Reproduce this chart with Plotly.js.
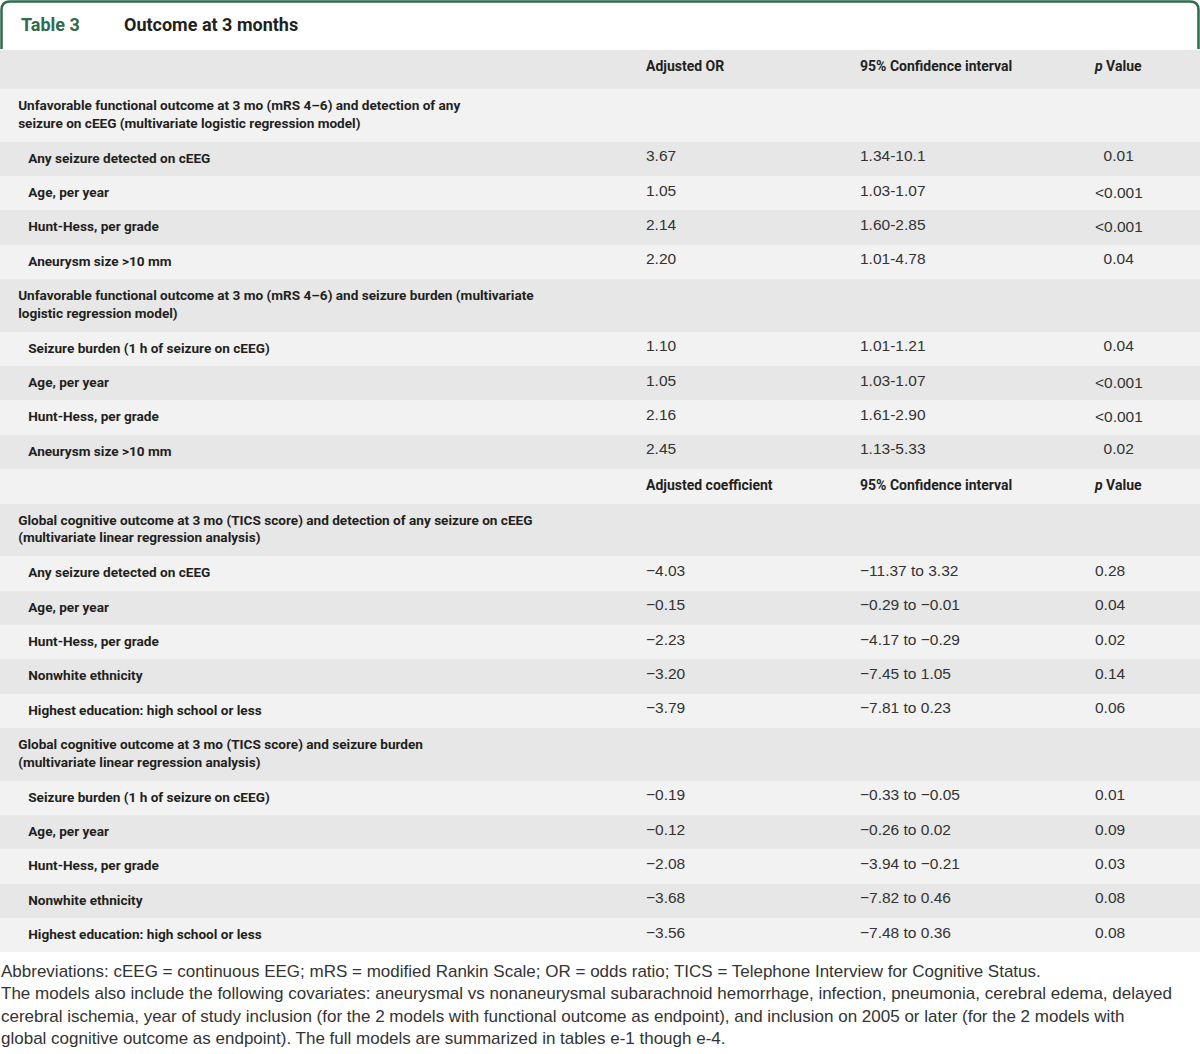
<!DOCTYPE html>
<html>
<head>
<meta charset="utf-8">
<script src="https://cdn.plot.ly/plotly-3.0.1.min.js"></script>
<style>html,body{margin:0;padding:0;background:#fff;}#chart{width:1200px;height:1054px;}</style>
</head>
<body>
<div id="chart"></div>
<script>
// ---------------- data ----------------
const tableNumber = "Table 3";
const tableTitle = "Outcome at 3 months";
const columnHeaders = ["", "Adjusted OR", "95% Confidence interval", "<i>p</i> Value"];

const rowKinds = [
  "section", "item", "item", "item", "item",
  "section", "item", "item", "item", "item",
  "header",
  "section", "item", "item", "item", "item", "item",
  "section", "item", "item", "item", "item", "item"
];
const rowLabels = [
  "Unfavorable functional outcome at 3 mo (mRS 4–6) and detection of any<br>seizure on cEEG (multivariate logistic regression model)",
  "Any seizure detected on cEEG",
  "Age, per year",
  "Hunt-Hess, per grade",
  "Aneurysm size >10 mm",
  "Unfavorable functional outcome at 3 mo (mRS 4–6) and seizure burden (multivariate<br>logistic regression model)",
  "Seizure burden (1 h of seizure on cEEG)",
  "Age, per year",
  "Hunt-Hess, per grade",
  "Aneurysm size >10 mm",
  "",
  "Global cognitive outcome at 3 mo (TICS score) and detection of any seizure on cEEG<br>(multivariate linear regression analysis)",
  "Any seizure detected on cEEG",
  "Age, per year",
  "Hunt-Hess, per grade",
  "Nonwhite ethnicity",
  "Highest education: high school or less",
  "Global cognitive outcome at 3 mo (TICS score) and seizure burden<br>(multivariate linear regression analysis)",
  "Seizure burden (1 h of seizure on cEEG)",
  "Age, per year",
  "Hunt-Hess, per grade",
  "Nonwhite ethnicity",
  "Highest education: high school or less"
];
const estimates = [
  "", "3.67", "1.05", "2.14", "2.20",
  "", "1.10", "1.05", "2.16", "2.45",
  "Adjusted coefficient",
  "", "−4.03", "−0.15", "−2.23", "−3.20", "−3.79",
  "", "−0.19", "−0.12", "−2.08", "−3.68", "−3.56"
];
const confIntervals = [
  "", "1.34-10.1", "1.03-1.07", "1.60-2.85", "1.01-4.78",
  "", "1.01-1.21", "1.03-1.07", "1.61-2.90", "1.13-5.33",
  "95% Confidence interval",
  "", "−11.37 to 3.32", "−0.29 to −0.01", "−4.17 to −0.29", "−7.45 to 1.05", "−7.81 to 0.23",
  "", "−0.33 to −0.05", "−0.26 to 0.02", "−3.94 to −0.21", "−7.82 to 0.46", "−7.48 to 0.36"
];
const pValues = [
  "", "0.01", "<0.001", "<0.001", "0.04",
  "", "0.04", "<0.001", "<0.001", "0.02",
  "<i>p</i> Value",
  "", "0.28", "0.04", "0.02", "0.14", "0.06",
  "", "0.01", "0.09", "0.03", "0.08", "0.08"
];
const footnoteLines = [
  "Abbreviations: cEEG = continuous EEG; mRS = modified Rankin Scale; OR = odds ratio; TICS = Telephone Interview for Cognitive Status.",
  "The models also include the following covariates: aneurysmal vs nonaneurysmal subarachnoid hemorrhage, infection, pneumonia, cerebral edema, delayed",
  "cerebral ischemia, year of study inclusion (for the 2 models with functional outcome as endpoint), and inclusion on 2005 or later (for the 2 models with",
  "global cognitive outcome as endpoint). The full models are summarized in tables e-1 though e-4."
];

// ---------------- styling / build ----------------
const W = 1200, H = 1054;
const GREEN = "#2f6b4c";
const DARK = "#e6e7e6", LIGHT = "#f2f2f2";
const TEXT = "#231f20";
const NUMCOLOR = "#333333";
const LABEL_FONT = "Roboto, 'Liberation Sans', Arial, sans-serif";
const NUM_FONT = "'Liberation Sans', Arial, sans-serif";
const NB = "\u00a0";

function escText(s) {
  return s.split(/(<\/?(?:i|b)>|<br>)/).map(function (part) {
    if (/^(<\/?(?:i|b)>|<br>)$/.test(part)) return part;
    return part.replace(/</g, "&lt;").replace(/>/g, "&gt;");
  }).join("");
}

// decimal alignment of p values inside blocks that contain "<" values
const pDisplay = pValues.map(function (p, i) {
  if (rowKinds[i] !== "item") return p;
  let s = i; while (s > 0 && rowKinds[s - 1] === "item") s--;
  let e = i; while (e < rowKinds.length - 1 && rowKinds[e + 1] === "item") e++;
  let hasLt = false;
  for (let k = s; k <= e; k++) if (pValues[k].charAt(0) === "<") hasLt = true;
  return (hasLt && p.charAt(0) !== "<") ? "\u2007" + p : p;
});

const col0 = rowLabels.map(function (l, i) {
  if (rowKinds[i] === "section") return NB + NB + NB + "<b>" + escText(l).split("<br>").join("</b><br>" + NB + NB + NB + "<b>") + "</b>";
  if (rowKinds[i] === "item") return NB + NB + NB + NB + NB + NB + "<b>" + escText(l) + "</b>";
  return "";
});
// section rows: an invisible two-line spacer in the estimate column gives them their taller height
const col1 = estimates.map(function (v, i) {
  if (rowKinds[i] === "header") return "<b>" + v + "</b>";
  if (rowKinds[i] === "section") return NB + "<br>" + NB;
  return escText(v);
});
const col2 = confIntervals.map(function (v, i) { return rowKinds[i] === "header" ? "<b>" + v + "</b>" : escText(v); });
const col3 = pDisplay.map(function (v, i) { return rowKinds[i] === "header" ? "<b>" + v + "</b>" : escText(v); });

const fills = rowKinds.map(function (k, i) { return i % 2 === 0 ? LIGHT : DARK; });
const famCol0 = rowKinds.map(function () { return LABEL_FONT; });
const famNum = rowKinds.map(function (k) { return k === "header" ? LABEL_FONT : NUM_FONT; });
const sizeCol0 = rowKinds.map(function () { return 13.6; });
const sizeCol1 = rowKinds.map(function (k) { return k === "header" ? 14 : (k === "section" ? 15.15 : 15.5); });
const sizeNum = rowKinds.map(function (k) { return k === "header" ? 14 : 15.5; });
const colNum = rowKinds.map(function (k) { return k === "header" ? TEXT : NUMCOLOR; });
const colLab = rowKinds.map(function () { return TEXT; });

const trace = {
  type: "table",
  domain: { x: [0, 1], y: [0, 1 - 50 / H] },
  columnwidth: [638, 214, 235, 113],
  header: {
    values: columnHeaders.map(function (h) { return h ? "<b>" + h + "</b>" : ""; }),
    align: "left",
    height: 39,
    fill: { color: DARK },
    line: { width: 0, color: DARK },
    font: { family: LABEL_FONT, size: 14, color: TEXT }
  },
  cells: {
    values: [col0, col1, col2, col3],
    align: "left",
    height: 34.35,
    fill: { color: [fills, fills, fills, fills] },
    line: { width: 0, color: [fills, fills, fills, fills] },
    font: {
      family: [famCol0, famNum, famNum, famNum],
      size: [sizeCol0, sizeCol1, sizeNum, sizeNum],
      color: [colLab, colNum, colNum, colNum]
    }
  }
};

function px(x) { return x / W; }
function py(y) { return 1 - y / H; }
const borderPath =
  "M " + px(1.5) + "," + py(49) +
  " L " + px(1.5) + "," + py(10) +
  " Q " + px(1.5) + "," + py(1.5) + " " + px(10) + "," + py(1.5) +
  " L " + px(1190) + "," + py(1.5) +
  " Q " + px(1198.5) + "," + py(1.5) + " " + px(1198.5) + "," + py(10) +
  " L " + px(1198.5) + "," + py(49);

const annotations = [
  { text: "<b>" + tableNumber + "</b>", x: px(20), y: py(24), xanchor: "left", yanchor: "middle",
    font: { family: LABEL_FONT, size: 18, color: GREEN } },
  { text: "<b>" + tableTitle + "</b>", x: px(123), y: py(24), xanchor: "left", yanchor: "middle",
    font: { family: LABEL_FONT, size: 18, color: TEXT } }
];
const footY = [971, 993.5, 1016, 1038.5];
footnoteLines.forEach(function (line, i) {
  annotations.push({ text: escText(line), x: px(0), y: py(footY[i]), xanchor: "left", yanchor: "middle",
    font: { family: NUM_FONT, size: 17, color: "#333333" } });
});
annotations.forEach(function (a) { a.xref = "paper"; a.yref = "paper"; a.showarrow = false; a.borderpad = 0; });

const layout = {
  width: W, height: H,
  margin: { l: 0, r: 0, t: 0, b: 0, pad: 0 },
  paper_bgcolor: "#ffffff",
  plot_bgcolor: "#ffffff",
  shapes: [{ type: "path", xref: "paper", yref: "paper", path: borderPath, line: { color: GREEN, width: 2.5 } }],
  annotations: annotations
};

Plotly.newPlot("chart", [trace], layout, { displayModeBar: false, staticPlot: true });
</script>
</body>
</html>
